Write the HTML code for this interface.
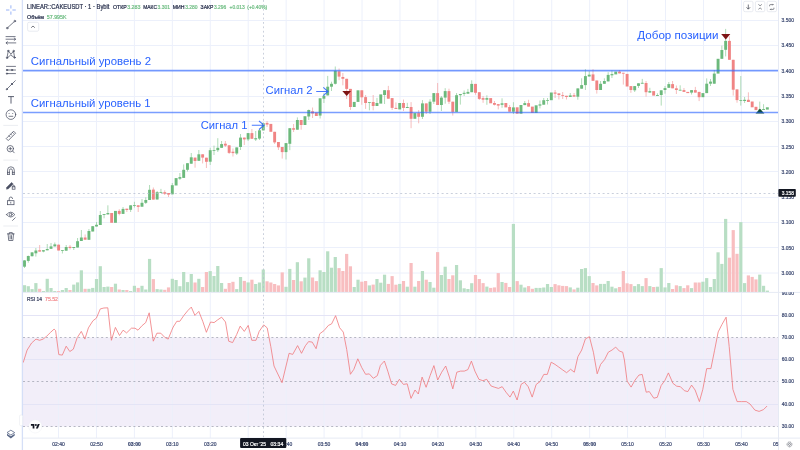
<!DOCTYPE html>
<html><head><meta charset="utf-8"><title>CAKEUSDT chart</title>
<style>html,body{margin:0;padding:0;background:#fff;width:800px;height:450px;overflow:hidden}svg{display:block}</style>
</head><body>
<svg width="800" height="450" viewBox="0 0 800 450" font-family="'Liberation Sans', 'DejaVu Sans', sans-serif">
<defs><clipPath id="mainclip"><rect x="23" y="0" width="755" height="292"/></clipPath><clipPath id="rsiclip"><rect x="23" y="293" width="755" height="145"/></clipPath><clipPath id="rsiax"><rect x="779" y="292.3" width="21" height="145"/></clipPath><clipPath id="timeclip"><rect x="23" y="438" width="755.5" height="12"/></clipPath></defs>
<rect width="800" height="450" fill="#fff"/>
<rect x="23" y="337.5" width="755" height="89" fill="#f2eef9"/>
<line x1="58.50" y1="0" x2="58.50" y2="438" stroke="#ecf0fb" stroke-width="1"/>
<line x1="96.44" y1="0" x2="96.44" y2="438" stroke="#ecf0fb" stroke-width="1"/>
<line x1="134.38" y1="0" x2="134.38" y2="438" stroke="#ecf0fb" stroke-width="1"/>
<line x1="172.32" y1="0" x2="172.32" y2="438" stroke="#ecf0fb" stroke-width="1"/>
<line x1="210.26" y1="0" x2="210.26" y2="438" stroke="#ecf0fb" stroke-width="1"/>
<line x1="248.20" y1="0" x2="248.20" y2="438" stroke="#ecf0fb" stroke-width="1"/>
<line x1="286.14" y1="0" x2="286.14" y2="438" stroke="#ecf0fb" stroke-width="1"/>
<line x1="324.08" y1="0" x2="324.08" y2="438" stroke="#ecf0fb" stroke-width="1"/>
<line x1="362.02" y1="0" x2="362.02" y2="438" stroke="#ecf0fb" stroke-width="1"/>
<line x1="399.96" y1="0" x2="399.96" y2="438" stroke="#ecf0fb" stroke-width="1"/>
<line x1="437.90" y1="0" x2="437.90" y2="438" stroke="#ecf0fb" stroke-width="1"/>
<line x1="475.84" y1="0" x2="475.84" y2="438" stroke="#ecf0fb" stroke-width="1"/>
<line x1="513.78" y1="0" x2="513.78" y2="438" stroke="#ecf0fb" stroke-width="1"/>
<line x1="551.72" y1="0" x2="551.72" y2="438" stroke="#ecf0fb" stroke-width="1"/>
<line x1="589.66" y1="0" x2="589.66" y2="438" stroke="#ecf0fb" stroke-width="1"/>
<line x1="627.60" y1="0" x2="627.60" y2="438" stroke="#ecf0fb" stroke-width="1"/>
<line x1="665.54" y1="0" x2="665.54" y2="438" stroke="#ecf0fb" stroke-width="1"/>
<line x1="703.48" y1="0" x2="703.48" y2="438" stroke="#ecf0fb" stroke-width="1"/>
<line x1="741.42" y1="0" x2="741.42" y2="438" stroke="#ecf0fb" stroke-width="1"/>
<line x1="23" y1="20.5" x2="778" y2="20.5" stroke="#ecf0fb" stroke-width="1"/>
<line x1="23" y1="45.5" x2="778" y2="45.5" stroke="#ecf0fb" stroke-width="1"/>
<line x1="23" y1="70.5" x2="778" y2="70.5" stroke="#ecf0fb" stroke-width="1"/>
<line x1="23" y1="96.5" x2="778" y2="96.5" stroke="#ecf0fb" stroke-width="1"/>
<line x1="23" y1="121.5" x2="778" y2="121.5" stroke="#ecf0fb" stroke-width="1"/>
<line x1="23" y1="146.5" x2="778" y2="146.5" stroke="#ecf0fb" stroke-width="1"/>
<line x1="23" y1="171.5" x2="778" y2="171.5" stroke="#ecf0fb" stroke-width="1"/>
<line x1="23" y1="197.5" x2="778" y2="197.5" stroke="#ecf0fb" stroke-width="1"/>
<line x1="23" y1="222.5" x2="778" y2="222.5" stroke="#ecf0fb" stroke-width="1"/>
<line x1="23" y1="247.5" x2="778" y2="247.5" stroke="#ecf0fb" stroke-width="1"/>
<line x1="23" y1="273.0" x2="778" y2="273.0" stroke="#ecf0fb" stroke-width="1"/>
<line x1="23" y1="315.5" x2="778" y2="315.5" stroke="#e4e4f6" stroke-width="1"/>
<line x1="23" y1="359.5" x2="778" y2="359.5" stroke="#e4e4f6" stroke-width="1"/>
<line x1="23" y1="404.5" x2="778" y2="404.5" stroke="#e4e4f6" stroke-width="1"/>
<line x1="23" y1="337.5" x2="778" y2="337.5" stroke="#9a9cab" stroke-width="0.7" stroke-dasharray="2 2.6"/>
<line x1="23" y1="381.5" x2="778" y2="381.5" stroke="#9a9cab" stroke-width="0.7" stroke-dasharray="2 2.6"/>
<line x1="23" y1="426.5" x2="778" y2="426.5" stroke="#9a9cab" stroke-width="0.7" stroke-dasharray="2 2.6"/>
<g clip-path="url(#mainclip)">
<rect x="22.90" y="285.2" width="3.2" height="6.8" fill="#b8dec4"/>
<rect x="26.69" y="286.2" width="3.2" height="5.8" fill="#b8dec4"/>
<rect x="30.48" y="289.1" width="3.2" height="2.9" fill="#b8dec4"/>
<rect x="34.27" y="283.1" width="3.2" height="8.9" fill="#b8dec4"/>
<rect x="38.06" y="288.8" width="3.2" height="3.2" fill="#f8bec0"/>
<rect x="41.85" y="291.0" width="3.2" height="1.0" fill="#b8dec4"/>
<rect x="45.64" y="278.8" width="3.2" height="13.2" fill="#b8dec4"/>
<rect x="49.43" y="288.0" width="3.2" height="4.0" fill="#b8dec4"/>
<rect x="53.22" y="291.0" width="3.2" height="1.0" fill="#b8dec4"/>
<rect x="57.01" y="291.0" width="3.2" height="1.0" fill="#f8bec0"/>
<rect x="60.80" y="290.0" width="3.2" height="2.0" fill="#b8dec4"/>
<rect x="64.59" y="288.0" width="3.2" height="4.0" fill="#b8dec4"/>
<rect x="68.38" y="290.0" width="3.2" height="2.0" fill="#f8bec0"/>
<rect x="72.17" y="284.6" width="3.2" height="7.4" fill="#b8dec4"/>
<rect x="75.96" y="282.4" width="3.2" height="9.6" fill="#b8dec4"/>
<rect x="79.75" y="270.3" width="3.2" height="21.7" fill="#b8dec4"/>
<rect x="83.54" y="288.8" width="3.2" height="3.2" fill="#f8bec0"/>
<rect x="87.33" y="288.8" width="3.2" height="3.2" fill="#b8dec4"/>
<rect x="91.12" y="287.9" width="3.2" height="4.1" fill="#b8dec4"/>
<rect x="94.91" y="279.0" width="3.2" height="13.0" fill="#b8dec4"/>
<rect x="98.70" y="266.2" width="3.2" height="25.8" fill="#b8dec4"/>
<rect x="102.49" y="287.0" width="3.2" height="5.0" fill="#b8dec4"/>
<rect x="106.28" y="286.6" width="3.2" height="5.4" fill="#b8dec4"/>
<rect x="110.07" y="287.0" width="3.2" height="5.0" fill="#f8bec0"/>
<rect x="113.86" y="283.7" width="3.2" height="8.3" fill="#b8dec4"/>
<rect x="117.65" y="289.5" width="3.2" height="2.5" fill="#f8bec0"/>
<rect x="121.44" y="290.0" width="3.2" height="2.0" fill="#b8dec4"/>
<rect x="125.23" y="290.0" width="3.2" height="2.0" fill="#f8bec0"/>
<rect x="129.02" y="291.0" width="3.2" height="1.0" fill="#b8dec4"/>
<rect x="132.81" y="285.8" width="3.2" height="6.2" fill="#b8dec4"/>
<rect x="136.60" y="287.9" width="3.2" height="4.1" fill="#f8bec0"/>
<rect x="140.39" y="285.8" width="3.2" height="6.2" fill="#b8dec4"/>
<rect x="144.18" y="289.5" width="3.2" height="2.5" fill="#b8dec4"/>
<rect x="147.97" y="258.9" width="3.2" height="33.1" fill="#b8dec4"/>
<rect x="151.76" y="279.1" width="3.2" height="12.9" fill="#f8bec0"/>
<rect x="155.55" y="289.1" width="3.2" height="2.9" fill="#b8dec4"/>
<rect x="159.34" y="289.5" width="3.2" height="2.5" fill="#b8dec4"/>
<rect x="163.13" y="289.8" width="3.2" height="2.2" fill="#f8bec0"/>
<rect x="166.92" y="287.4" width="3.2" height="4.6" fill="#f8bec0"/>
<rect x="170.71" y="278.8" width="3.2" height="13.2" fill="#b8dec4"/>
<rect x="174.50" y="280.0" width="3.2" height="12.0" fill="#b8dec4"/>
<rect x="178.29" y="286.2" width="3.2" height="5.8" fill="#b8dec4"/>
<rect x="182.08" y="272.0" width="3.2" height="20.0" fill="#b8dec4"/>
<rect x="185.87" y="282.1" width="3.2" height="9.9" fill="#b8dec4"/>
<rect x="189.66" y="274.0" width="3.2" height="18.0" fill="#b8dec4"/>
<rect x="193.45" y="282.5" width="3.2" height="9.5" fill="#f8bec0"/>
<rect x="197.24" y="278.8" width="3.2" height="13.2" fill="#b8dec4"/>
<rect x="201.03" y="287.0" width="3.2" height="5.0" fill="#f8bec0"/>
<rect x="204.82" y="272.0" width="3.2" height="20.0" fill="#f8bec0"/>
<rect x="208.61" y="271.1" width="3.2" height="20.9" fill="#b8dec4"/>
<rect x="212.40" y="276.0" width="3.2" height="16.0" fill="#b8dec4"/>
<rect x="216.19" y="266.0" width="3.2" height="26.0" fill="#b8dec4"/>
<rect x="219.98" y="283.0" width="3.2" height="9.0" fill="#b8dec4"/>
<rect x="223.77" y="288.8" width="3.2" height="3.2" fill="#f8bec0"/>
<rect x="227.56" y="283.0" width="3.2" height="9.0" fill="#f8bec0"/>
<rect x="231.35" y="281.8" width="3.2" height="10.2" fill="#f8bec0"/>
<rect x="235.14" y="289.1" width="3.2" height="2.9" fill="#b8dec4"/>
<rect x="238.93" y="277.0" width="3.2" height="15.0" fill="#b8dec4"/>
<rect x="242.72" y="280.9" width="3.2" height="11.1" fill="#f8bec0"/>
<rect x="246.51" y="282.4" width="3.2" height="9.6" fill="#b8dec4"/>
<rect x="250.30" y="279.7" width="3.2" height="12.3" fill="#f8bec0"/>
<rect x="254.09" y="284.0" width="3.2" height="8.0" fill="#b8dec4"/>
<rect x="257.88" y="282.5" width="3.2" height="9.5" fill="#b8dec4"/>
<rect x="261.67" y="269.5" width="3.2" height="22.5" fill="#b8dec4"/>
<rect x="265.46" y="281.3" width="3.2" height="10.7" fill="#f8bec0"/>
<rect x="269.25" y="282.5" width="3.2" height="9.5" fill="#f8bec0"/>
<rect x="273.04" y="284.0" width="3.2" height="8.0" fill="#f8bec0"/>
<rect x="276.83" y="285.4" width="3.2" height="6.6" fill="#f8bec0"/>
<rect x="280.62" y="272.4" width="3.2" height="19.6" fill="#f8bec0"/>
<rect x="284.41" y="286.8" width="3.2" height="5.2" fill="#b8dec4"/>
<rect x="288.20" y="268.9" width="3.2" height="23.1" fill="#b8dec4"/>
<rect x="291.99" y="280.0" width="3.2" height="12.0" fill="#f8bec0"/>
<rect x="295.78" y="262.2" width="3.2" height="29.8" fill="#b8dec4"/>
<rect x="299.57" y="281.3" width="3.2" height="10.7" fill="#f8bec0"/>
<rect x="303.36" y="277.6" width="3.2" height="14.4" fill="#b8dec4"/>
<rect x="307.15" y="258.3" width="3.2" height="33.7" fill="#b8dec4"/>
<rect x="310.94" y="277.5" width="3.2" height="14.5" fill="#f8bec0"/>
<rect x="314.73" y="281.1" width="3.2" height="10.9" fill="#f8bec0"/>
<rect x="318.52" y="270.3" width="3.2" height="21.7" fill="#b8dec4"/>
<rect x="322.31" y="272.0" width="3.2" height="20.0" fill="#b8dec4"/>
<rect x="326.10" y="251.3" width="3.2" height="40.7" fill="#b8dec4"/>
<rect x="329.89" y="267.7" width="3.2" height="24.3" fill="#b8dec4"/>
<rect x="333.68" y="257.0" width="3.2" height="35.0" fill="#b8dec4"/>
<rect x="337.47" y="268.1" width="3.2" height="23.9" fill="#f8bec0"/>
<rect x="341.26" y="271.0" width="3.2" height="21.0" fill="#f8bec0"/>
<rect x="345.05" y="253.9" width="3.2" height="38.1" fill="#f8bec0"/>
<rect x="348.84" y="266.3" width="3.2" height="25.7" fill="#f8bec0"/>
<rect x="352.63" y="287.0" width="3.2" height="5.0" fill="#b8dec4"/>
<rect x="356.42" y="279.7" width="3.2" height="12.3" fill="#b8dec4"/>
<rect x="360.21" y="281.7" width="3.2" height="10.3" fill="#f8bec0"/>
<rect x="364.00" y="281.0" width="3.2" height="11.0" fill="#f8bec0"/>
<rect x="367.79" y="285.4" width="3.2" height="6.6" fill="#b8dec4"/>
<rect x="371.58" y="284.6" width="3.2" height="7.4" fill="#f8bec0"/>
<rect x="375.37" y="279.0" width="3.2" height="13.0" fill="#b8dec4"/>
<rect x="379.16" y="282.7" width="3.2" height="9.3" fill="#b8dec4"/>
<rect x="382.95" y="274.7" width="3.2" height="17.3" fill="#b8dec4"/>
<rect x="386.74" y="283.9" width="3.2" height="8.1" fill="#f8bec0"/>
<rect x="390.53" y="276.1" width="3.2" height="15.9" fill="#f8bec0"/>
<rect x="394.32" y="284.7" width="3.2" height="7.3" fill="#f8bec0"/>
<rect x="398.11" y="283.9" width="3.2" height="8.1" fill="#b8dec4"/>
<rect x="401.90" y="281.0" width="3.2" height="11.0" fill="#f8bec0"/>
<rect x="405.69" y="286.7" width="3.2" height="5.3" fill="#b8dec4"/>
<rect x="409.48" y="263.0" width="3.2" height="29.0" fill="#f8bec0"/>
<rect x="413.27" y="286.7" width="3.2" height="5.3" fill="#b8dec4"/>
<rect x="417.06" y="281.0" width="3.2" height="11.0" fill="#f8bec0"/>
<rect x="420.85" y="271.0" width="3.2" height="21.0" fill="#b8dec4"/>
<rect x="424.64" y="279.7" width="3.2" height="12.3" fill="#f8bec0"/>
<rect x="428.43" y="282.0" width="3.2" height="10.0" fill="#b8dec4"/>
<rect x="432.22" y="287.7" width="3.2" height="4.3" fill="#b8dec4"/>
<rect x="436.01" y="252.1" width="3.2" height="39.9" fill="#f8bec0"/>
<rect x="439.80" y="275.0" width="3.2" height="17.0" fill="#b8dec4"/>
<rect x="443.59" y="266.7" width="3.2" height="25.3" fill="#b8dec4"/>
<rect x="447.38" y="279.0" width="3.2" height="13.0" fill="#f8bec0"/>
<rect x="451.17" y="275.3" width="3.2" height="16.7" fill="#f8bec0"/>
<rect x="454.96" y="265.0" width="3.2" height="27.0" fill="#b8dec4"/>
<rect x="458.75" y="280.3" width="3.2" height="11.7" fill="#b8dec4"/>
<rect x="462.54" y="288.3" width="3.2" height="3.7" fill="#b8dec4"/>
<rect x="466.33" y="289.0" width="3.2" height="3.0" fill="#b8dec4"/>
<rect x="470.12" y="283.2" width="3.2" height="8.8" fill="#b8dec4"/>
<rect x="473.91" y="275.0" width="3.2" height="17.0" fill="#f8bec0"/>
<rect x="477.70" y="279.0" width="3.2" height="13.0" fill="#f8bec0"/>
<rect x="481.49" y="283.1" width="3.2" height="8.9" fill="#f8bec0"/>
<rect x="485.28" y="286.6" width="3.2" height="5.4" fill="#b8dec4"/>
<rect x="489.07" y="287.9" width="3.2" height="4.1" fill="#f8bec0"/>
<rect x="492.86" y="287.4" width="3.2" height="4.6" fill="#f8bec0"/>
<rect x="496.65" y="273.1" width="3.2" height="18.9" fill="#f8bec0"/>
<rect x="500.44" y="282.0" width="3.2" height="10.0" fill="#b8dec4"/>
<rect x="504.23" y="282.9" width="3.2" height="9.1" fill="#f8bec0"/>
<rect x="508.02" y="287.0" width="3.2" height="5.0" fill="#f8bec0"/>
<rect x="511.81" y="223.9" width="3.2" height="68.1" fill="#b8dec4"/>
<rect x="515.60" y="281.1" width="3.2" height="10.9" fill="#f8bec0"/>
<rect x="519.39" y="284.7" width="3.2" height="7.3" fill="#b8dec4"/>
<rect x="523.18" y="287.5" width="3.2" height="4.5" fill="#b8dec4"/>
<rect x="526.97" y="286.1" width="3.2" height="5.9" fill="#f8bec0"/>
<rect x="530.76" y="288.8" width="3.2" height="3.2" fill="#f8bec0"/>
<rect x="534.55" y="287.9" width="3.2" height="4.1" fill="#b8dec4"/>
<rect x="538.34" y="287.9" width="3.2" height="4.1" fill="#b8dec4"/>
<rect x="542.13" y="287.5" width="3.2" height="4.5" fill="#b8dec4"/>
<rect x="545.92" y="284.0" width="3.2" height="8.0" fill="#b8dec4"/>
<rect x="549.71" y="287.0" width="3.2" height="5.0" fill="#b8dec4"/>
<rect x="553.50" y="284.1" width="3.2" height="7.9" fill="#f8bec0"/>
<rect x="557.29" y="285.3" width="3.2" height="6.7" fill="#f8bec0"/>
<rect x="561.08" y="285.9" width="3.2" height="6.1" fill="#f8bec0"/>
<rect x="564.87" y="286.1" width="3.2" height="5.9" fill="#f8bec0"/>
<rect x="568.66" y="287.4" width="3.2" height="4.6" fill="#b8dec4"/>
<rect x="572.45" y="289.4" width="3.2" height="2.6" fill="#f8bec0"/>
<rect x="576.24" y="287.7" width="3.2" height="4.3" fill="#b8dec4"/>
<rect x="580.03" y="269.0" width="3.2" height="23.0" fill="#b8dec4"/>
<rect x="583.82" y="268.1" width="3.2" height="23.9" fill="#b8dec4"/>
<rect x="587.61" y="276.1" width="3.2" height="15.9" fill="#b8dec4"/>
<rect x="591.40" y="283.0" width="3.2" height="9.0" fill="#f8bec0"/>
<rect x="595.19" y="285.4" width="3.2" height="6.6" fill="#f8bec0"/>
<rect x="598.98" y="283.9" width="3.2" height="8.1" fill="#b8dec4"/>
<rect x="602.77" y="283.9" width="3.2" height="8.1" fill="#b8dec4"/>
<rect x="606.56" y="281.0" width="3.2" height="11.0" fill="#b8dec4"/>
<rect x="610.35" y="286.7" width="3.2" height="5.3" fill="#b8dec4"/>
<rect x="614.14" y="288.3" width="3.2" height="3.7" fill="#b8dec4"/>
<rect x="617.93" y="287.0" width="3.2" height="5.0" fill="#f8bec0"/>
<rect x="621.72" y="271.0" width="3.2" height="21.0" fill="#f8bec0"/>
<rect x="625.51" y="283.3" width="3.2" height="8.7" fill="#f8bec0"/>
<rect x="629.30" y="284.1" width="3.2" height="7.9" fill="#f8bec0"/>
<rect x="633.09" y="286.1" width="3.2" height="5.9" fill="#b8dec4"/>
<rect x="636.88" y="284.1" width="3.2" height="7.9" fill="#b8dec4"/>
<rect x="640.67" y="286.1" width="3.2" height="5.9" fill="#b8dec4"/>
<rect x="644.46" y="278.1" width="3.2" height="13.9" fill="#f8bec0"/>
<rect x="648.25" y="286.1" width="3.2" height="5.9" fill="#b8dec4"/>
<rect x="652.04" y="287.0" width="3.2" height="5.0" fill="#f8bec0"/>
<rect x="655.83" y="286.7" width="3.2" height="5.3" fill="#b8dec4"/>
<rect x="659.62" y="268.1" width="3.2" height="23.9" fill="#b8dec4"/>
<rect x="663.41" y="287.4" width="3.2" height="4.6" fill="#b8dec4"/>
<rect x="667.20" y="283.0" width="3.2" height="9.0" fill="#b8dec4"/>
<rect x="670.99" y="289.0" width="3.2" height="3.0" fill="#f8bec0"/>
<rect x="674.78" y="285.3" width="3.2" height="6.7" fill="#f8bec0"/>
<rect x="678.57" y="286.1" width="3.2" height="5.9" fill="#b8dec4"/>
<rect x="682.36" y="288.1" width="3.2" height="3.9" fill="#f8bec0"/>
<rect x="686.15" y="285.3" width="3.2" height="6.7" fill="#f8bec0"/>
<rect x="689.94" y="288.1" width="3.2" height="3.9" fill="#b8dec4"/>
<rect x="693.73" y="282.5" width="3.2" height="9.5" fill="#f8bec0"/>
<rect x="697.52" y="282.5" width="3.2" height="9.5" fill="#f8bec0"/>
<rect x="701.31" y="281.7" width="3.2" height="10.3" fill="#b8dec4"/>
<rect x="705.10" y="278.1" width="3.2" height="13.9" fill="#b8dec4"/>
<rect x="708.89" y="287.0" width="3.2" height="5.0" fill="#b8dec4"/>
<rect x="712.68" y="279.0" width="3.2" height="13.0" fill="#b8dec4"/>
<rect x="716.47" y="252.3" width="3.2" height="39.7" fill="#b8dec4"/>
<rect x="720.26" y="263.9" width="3.2" height="28.1" fill="#b8dec4"/>
<rect x="724.05" y="218.9" width="3.2" height="73.1" fill="#b8dec4"/>
<rect x="727.84" y="257.7" width="3.2" height="34.3" fill="#f8bec0"/>
<rect x="731.63" y="230.1" width="3.2" height="61.9" fill="#f8bec0"/>
<rect x="735.42" y="253.8" width="3.2" height="38.2" fill="#f8bec0"/>
<rect x="739.21" y="222.1" width="3.2" height="69.9" fill="#b8dec4"/>
<rect x="743.00" y="283.1" width="3.2" height="8.9" fill="#b8dec4"/>
<rect x="746.79" y="275.4" width="3.2" height="16.6" fill="#f8bec0"/>
<rect x="750.58" y="276.9" width="3.2" height="15.1" fill="#f8bec0"/>
<rect x="754.37" y="279.4" width="3.2" height="12.6" fill="#f8bec0"/>
<rect x="758.16" y="274.6" width="3.2" height="17.4" fill="#b8dec4"/>
<rect x="761.95" y="285.8" width="3.2" height="6.2" fill="#b8dec4"/>
<rect x="765.74" y="290.6" width="3.2" height="1.4" fill="#b8dec4"/>
<line x1="24.50" y1="260.0" x2="24.50" y2="268.0" stroke="#8ccb98" stroke-width="0.7"/>
<rect x="23.05" y="260.4" width="2.9" height="6.3" fill="#6cb97c"/>
<line x1="28.29" y1="255.5" x2="28.29" y2="262.7" stroke="#8ccb98" stroke-width="0.7"/>
<rect x="26.84" y="256.0" width="2.9" height="4.9" fill="#6cb97c"/>
<line x1="32.08" y1="252.0" x2="32.08" y2="256.5" stroke="#8ccb98" stroke-width="0.7"/>
<rect x="30.63" y="252.4" width="2.9" height="3.8" fill="#6cb97c"/>
<line x1="35.87" y1="248.0" x2="35.87" y2="256.6" stroke="#8ccb98" stroke-width="0.7"/>
<rect x="34.42" y="250.5" width="2.9" height="2.8" fill="#6cb97c"/>
<line x1="39.66" y1="245.0" x2="39.66" y2="251.6" stroke="#f4a0a0" stroke-width="0.7"/>
<rect x="38.21" y="250.2" width="2.9" height="1.4" fill="#f08484"/>
<line x1="43.45" y1="250.0" x2="43.45" y2="252.3" stroke="#8ccb98" stroke-width="0.7"/>
<rect x="42.00" y="250.2" width="2.9" height="1.3" fill="#6cb97c"/>
<line x1="47.24" y1="244.0" x2="47.24" y2="250.3" stroke="#8ccb98" stroke-width="0.7"/>
<rect x="45.79" y="249.0" width="2.9" height="1.3" fill="#6cb97c"/>
<line x1="51.03" y1="243.0" x2="51.03" y2="249.0" stroke="#8ccb98" stroke-width="0.7"/>
<rect x="49.58" y="246.4" width="2.9" height="2.4" fill="#6cb97c"/>
<line x1="54.82" y1="242.5" x2="54.82" y2="246.5" stroke="#8ccb98" stroke-width="0.7"/>
<rect x="53.37" y="244.4" width="2.9" height="2.0" fill="#6cb97c"/>
<line x1="58.61" y1="244.5" x2="58.61" y2="250.5" stroke="#f4a0a0" stroke-width="0.7"/>
<rect x="57.16" y="244.7" width="2.9" height="5.8" fill="#f08484"/>
<line x1="62.40" y1="250.0" x2="62.40" y2="253.5" stroke="#8ccb98" stroke-width="0.7"/>
<rect x="60.95" y="250.0" width="2.9" height="0.8" fill="#6cb97c"/>
<line x1="66.19" y1="245.0" x2="66.19" y2="250.7" stroke="#8ccb98" stroke-width="0.7"/>
<rect x="64.74" y="247.0" width="2.9" height="3.7" fill="#6cb97c"/>
<line x1="69.98" y1="245.0" x2="69.98" y2="249.5" stroke="#f4a0a0" stroke-width="0.7"/>
<rect x="68.53" y="246.8" width="2.9" height="1.2" fill="#f08484"/>
<line x1="73.77" y1="247.0" x2="73.77" y2="250.0" stroke="#8ccb98" stroke-width="0.7"/>
<rect x="72.32" y="247.0" width="2.9" height="1.0" fill="#6cb97c"/>
<line x1="77.56" y1="238.0" x2="77.56" y2="247.5" stroke="#8ccb98" stroke-width="0.7"/>
<rect x="76.11" y="241.2" width="2.9" height="6.3" fill="#6cb97c"/>
<line x1="81.35" y1="230.0" x2="81.35" y2="241.0" stroke="#8ccb98" stroke-width="0.7"/>
<rect x="79.90" y="237.5" width="2.9" height="3.5" fill="#6cb97c"/>
<line x1="85.14" y1="234.5" x2="85.14" y2="239.7" stroke="#f4a0a0" stroke-width="0.7"/>
<rect x="83.69" y="237.5" width="2.9" height="2.2" fill="#f08484"/>
<line x1="88.93" y1="229.0" x2="88.93" y2="239.8" stroke="#8ccb98" stroke-width="0.7"/>
<rect x="87.48" y="231.0" width="2.9" height="8.8" fill="#6cb97c"/>
<line x1="92.72" y1="226.0" x2="92.72" y2="231.5" stroke="#8ccb98" stroke-width="0.7"/>
<rect x="91.27" y="226.2" width="2.9" height="5.3" fill="#6cb97c"/>
<line x1="96.51" y1="222.0" x2="96.51" y2="226.5" stroke="#8ccb98" stroke-width="0.7"/>
<rect x="95.06" y="224.8" width="2.9" height="1.7" fill="#6cb97c"/>
<line x1="100.30" y1="211.0" x2="100.30" y2="225.0" stroke="#8ccb98" stroke-width="0.7"/>
<rect x="98.85" y="215.0" width="2.9" height="10.0" fill="#6cb97c"/>
<line x1="104.09" y1="214.0" x2="104.09" y2="218.3" stroke="#8ccb98" stroke-width="0.7"/>
<rect x="102.64" y="214.1" width="2.9" height="0.9" fill="#6cb97c"/>
<line x1="107.88" y1="205.3" x2="107.88" y2="214.4" stroke="#8ccb98" stroke-width="0.7"/>
<rect x="106.43" y="213.0" width="2.9" height="1.4" fill="#6cb97c"/>
<rect x="110.22" y="213.0" width="2.9" height="9.8" fill="#f08484"/>
<rect x="114.01" y="210.9" width="2.9" height="11.9" fill="#6cb97c"/>
<line x1="119.25" y1="209.2" x2="119.25" y2="215.3" stroke="#f4a0a0" stroke-width="0.7"/>
<rect x="117.80" y="210.9" width="2.9" height="3.0" fill="#f08484"/>
<line x1="123.04" y1="207.0" x2="123.04" y2="213.9" stroke="#8ccb98" stroke-width="0.7"/>
<rect x="121.59" y="208.9" width="2.9" height="5.0" fill="#6cb97c"/>
<line x1="126.83" y1="208.7" x2="126.83" y2="212.0" stroke="#f4a0a0" stroke-width="0.7"/>
<rect x="125.38" y="208.7" width="2.9" height="1.3" fill="#f08484"/>
<line x1="130.62" y1="205.3" x2="130.62" y2="212.0" stroke="#8ccb98" stroke-width="0.7"/>
<rect x="129.17" y="205.3" width="2.9" height="4.5" fill="#6cb97c"/>
<line x1="134.41" y1="201.8" x2="134.41" y2="207.5" stroke="#8ccb98" stroke-width="0.7"/>
<rect x="132.96" y="205.0" width="2.9" height="0.8" fill="#6cb97c"/>
<line x1="138.20" y1="205.3" x2="138.20" y2="212.0" stroke="#f4a0a0" stroke-width="0.7"/>
<rect x="136.75" y="205.3" width="2.9" height="1.6" fill="#f08484"/>
<line x1="141.99" y1="199.0" x2="141.99" y2="206.7" stroke="#8ccb98" stroke-width="0.7"/>
<rect x="140.54" y="202.8" width="2.9" height="3.9" fill="#6cb97c"/>
<line x1="145.78" y1="197.3" x2="145.78" y2="204.0" stroke="#8ccb98" stroke-width="0.7"/>
<rect x="144.33" y="200.0" width="2.9" height="2.8" fill="#6cb97c"/>
<line x1="149.57" y1="185.0" x2="149.57" y2="200.0" stroke="#8ccb98" stroke-width="0.7"/>
<rect x="148.12" y="189.8" width="2.9" height="10.2" fill="#6cb97c"/>
<line x1="153.36" y1="187.5" x2="153.36" y2="199.6" stroke="#f4a0a0" stroke-width="0.7"/>
<rect x="151.91" y="189.6" width="2.9" height="10.0" fill="#f08484"/>
<line x1="157.15" y1="191.0" x2="157.15" y2="199.5" stroke="#8ccb98" stroke-width="0.7"/>
<rect x="155.70" y="192.2" width="2.9" height="7.3" fill="#6cb97c"/>
<line x1="160.94" y1="188.9" x2="160.94" y2="193.0" stroke="#8ccb98" stroke-width="0.7"/>
<rect x="159.49" y="192.2" width="2.9" height="0.8" fill="#6cb97c"/>
<line x1="164.73" y1="190.3" x2="164.73" y2="195.0" stroke="#f4a0a0" stroke-width="0.7"/>
<rect x="163.28" y="192.2" width="2.9" height="1.6" fill="#f08484"/>
<line x1="168.52" y1="193.0" x2="168.52" y2="197.0" stroke="#f4a0a0" stroke-width="0.7"/>
<rect x="167.07" y="193.0" width="2.9" height="1.6" fill="#f08484"/>
<line x1="172.31" y1="183.0" x2="172.31" y2="194.3" stroke="#8ccb98" stroke-width="0.7"/>
<rect x="170.86" y="185.2" width="2.9" height="9.1" fill="#6cb97c"/>
<rect x="174.65" y="178.1" width="2.9" height="7.4" fill="#6cb97c"/>
<line x1="179.89" y1="173.0" x2="179.89" y2="180.0" stroke="#8ccb98" stroke-width="0.7"/>
<rect x="178.44" y="177.1" width="2.9" height="1.6" fill="#6cb97c"/>
<line x1="183.68" y1="164.4" x2="183.68" y2="177.9" stroke="#8ccb98" stroke-width="0.7"/>
<rect x="182.23" y="169.8" width="2.9" height="8.1" fill="#6cb97c"/>
<line x1="187.47" y1="163.2" x2="187.47" y2="171.5" stroke="#8ccb98" stroke-width="0.7"/>
<rect x="186.02" y="163.2" width="2.9" height="6.6" fill="#6cb97c"/>
<line x1="191.26" y1="153.0" x2="191.26" y2="163.7" stroke="#8ccb98" stroke-width="0.7"/>
<rect x="189.81" y="157.3" width="2.9" height="6.4" fill="#6cb97c"/>
<line x1="195.05" y1="157.6" x2="195.05" y2="167.7" stroke="#f4a0a0" stroke-width="0.7"/>
<rect x="193.60" y="157.6" width="2.9" height="3.4" fill="#f08484"/>
<line x1="198.84" y1="150.0" x2="198.84" y2="160.8" stroke="#8ccb98" stroke-width="0.7"/>
<rect x="197.39" y="154.3" width="2.9" height="6.5" fill="#6cb97c"/>
<line x1="202.63" y1="154.3" x2="202.63" y2="163.4" stroke="#f4a0a0" stroke-width="0.7"/>
<rect x="201.18" y="154.3" width="2.9" height="3.3" fill="#f08484"/>
<line x1="206.42" y1="157.7" x2="206.42" y2="168.0" stroke="#f4a0a0" stroke-width="0.7"/>
<rect x="204.97" y="157.7" width="2.9" height="4.1" fill="#f08484"/>
<line x1="210.21" y1="147.8" x2="210.21" y2="165.0" stroke="#8ccb98" stroke-width="0.7"/>
<rect x="208.76" y="150.2" width="2.9" height="11.5" fill="#6cb97c"/>
<line x1="214.00" y1="145.6" x2="214.00" y2="155.0" stroke="#8ccb98" stroke-width="0.7"/>
<rect x="212.55" y="150.2" width="2.9" height="0.8" fill="#6cb97c"/>
<line x1="217.79" y1="138.2" x2="217.79" y2="152.0" stroke="#8ccb98" stroke-width="0.7"/>
<rect x="216.34" y="147.8" width="2.9" height="2.4" fill="#6cb97c"/>
<line x1="221.58" y1="141.0" x2="221.58" y2="147.8" stroke="#8ccb98" stroke-width="0.7"/>
<rect x="220.13" y="144.1" width="2.9" height="3.7" fill="#6cb97c"/>
<line x1="225.37" y1="141.0" x2="225.37" y2="147.0" stroke="#f4a0a0" stroke-width="0.7"/>
<rect x="223.92" y="143.7" width="2.9" height="1.9" fill="#f08484"/>
<line x1="229.16" y1="145.3" x2="229.16" y2="154.0" stroke="#f4a0a0" stroke-width="0.7"/>
<rect x="227.71" y="145.3" width="2.9" height="7.6" fill="#f08484"/>
<line x1="232.95" y1="148.5" x2="232.95" y2="156.5" stroke="#f4a0a0" stroke-width="0.7"/>
<rect x="231.50" y="151.7" width="2.9" height="1.4" fill="#f08484"/>
<line x1="236.74" y1="147.4" x2="236.74" y2="155.0" stroke="#8ccb98" stroke-width="0.7"/>
<rect x="235.29" y="147.4" width="2.9" height="6.1" fill="#6cb97c"/>
<line x1="240.53" y1="134.0" x2="240.53" y2="150.0" stroke="#8ccb98" stroke-width="0.7"/>
<rect x="239.08" y="137.6" width="2.9" height="9.4" fill="#6cb97c"/>
<line x1="244.32" y1="137.6" x2="244.32" y2="145.0" stroke="#f4a0a0" stroke-width="0.7"/>
<rect x="242.87" y="137.6" width="2.9" height="1.8" fill="#f08484"/>
<line x1="248.11" y1="133.1" x2="248.11" y2="141.0" stroke="#8ccb98" stroke-width="0.7"/>
<rect x="246.66" y="133.1" width="2.9" height="6.3" fill="#6cb97c"/>
<line x1="251.90" y1="129.0" x2="251.90" y2="138.8" stroke="#f4a0a0" stroke-width="0.7"/>
<rect x="250.45" y="133.1" width="2.9" height="5.7" fill="#f08484"/>
<line x1="255.69" y1="131.0" x2="255.69" y2="141.0" stroke="#8ccb98" stroke-width="0.7"/>
<rect x="254.24" y="138.2" width="2.9" height="1.2" fill="#6cb97c"/>
<line x1="259.48" y1="129.0" x2="259.48" y2="140.0" stroke="#8ccb98" stroke-width="0.7"/>
<rect x="258.03" y="130.3" width="2.9" height="8.3" fill="#6cb97c"/>
<line x1="263.27" y1="122.2" x2="263.27" y2="130.4" stroke="#8ccb98" stroke-width="0.7"/>
<rect x="261.82" y="123.2" width="2.9" height="7.2" fill="#6cb97c"/>
<line x1="267.06" y1="121.0" x2="267.06" y2="127.0" stroke="#f4a0a0" stroke-width="0.7"/>
<rect x="265.61" y="122.9" width="2.9" height="1.7" fill="#f08484"/>
<rect x="269.40" y="123.9" width="2.9" height="7.9" fill="#f08484"/>
<line x1="274.64" y1="131.8" x2="274.64" y2="144.0" stroke="#f4a0a0" stroke-width="0.7"/>
<rect x="273.19" y="131.8" width="2.9" height="10.6" fill="#f08484"/>
<line x1="278.43" y1="142.0" x2="278.43" y2="150.0" stroke="#f4a0a0" stroke-width="0.7"/>
<rect x="276.98" y="142.0" width="2.9" height="5.3" fill="#f08484"/>
<line x1="282.22" y1="147.0" x2="282.22" y2="158.6" stroke="#f4a0a0" stroke-width="0.7"/>
<rect x="280.77" y="147.0" width="2.9" height="5.1" fill="#f08484"/>
<line x1="286.01" y1="143.1" x2="286.01" y2="159.5" stroke="#8ccb98" stroke-width="0.7"/>
<rect x="284.56" y="143.1" width="2.9" height="9.0" fill="#6cb97c"/>
<line x1="289.80" y1="128.2" x2="289.80" y2="150.2" stroke="#8ccb98" stroke-width="0.7"/>
<rect x="288.35" y="128.2" width="2.9" height="15.6" fill="#6cb97c"/>
<line x1="293.59" y1="124.0" x2="293.59" y2="132.0" stroke="#f4a0a0" stroke-width="0.7"/>
<rect x="292.14" y="128.2" width="2.9" height="1.5" fill="#f08484"/>
<line x1="297.38" y1="117.4" x2="297.38" y2="129.7" stroke="#8ccb98" stroke-width="0.7"/>
<rect x="295.93" y="120.0" width="2.9" height="9.7" fill="#6cb97c"/>
<line x1="301.17" y1="120.0" x2="301.17" y2="129.7" stroke="#f4a0a0" stroke-width="0.7"/>
<rect x="299.72" y="120.0" width="2.9" height="5.0" fill="#f08484"/>
<rect x="303.51" y="116.2" width="2.9" height="8.8" fill="#6cb97c"/>
<line x1="308.75" y1="109.5" x2="308.75" y2="120.0" stroke="#8ccb98" stroke-width="0.7"/>
<rect x="307.30" y="110.0" width="2.9" height="6.5" fill="#6cb97c"/>
<line x1="312.54" y1="107.5" x2="312.54" y2="118.0" stroke="#f4a0a0" stroke-width="0.7"/>
<rect x="311.09" y="111.3" width="2.9" height="2.2" fill="#f08484"/>
<rect x="314.88" y="112.5" width="2.9" height="3.5" fill="#f08484"/>
<line x1="320.12" y1="98.3" x2="320.12" y2="118.5" stroke="#8ccb98" stroke-width="0.7"/>
<rect x="318.67" y="98.3" width="2.9" height="17.3" fill="#6cb97c"/>
<line x1="323.91" y1="93.2" x2="323.91" y2="103.0" stroke="#8ccb98" stroke-width="0.7"/>
<rect x="322.46" y="95.8" width="2.9" height="2.9" fill="#6cb97c"/>
<line x1="327.70" y1="75.9" x2="327.70" y2="95.4" stroke="#8ccb98" stroke-width="0.7"/>
<rect x="326.25" y="86.7" width="2.9" height="8.7" fill="#6cb97c"/>
<line x1="331.49" y1="81.7" x2="331.49" y2="91.0" stroke="#8ccb98" stroke-width="0.7"/>
<rect x="330.04" y="83.8" width="2.9" height="2.9" fill="#6cb97c"/>
<line x1="335.28" y1="66.5" x2="335.28" y2="84.5" stroke="#8ccb98" stroke-width="0.7"/>
<rect x="333.83" y="70.8" width="2.9" height="13.0" fill="#6cb97c"/>
<line x1="339.07" y1="68.5" x2="339.07" y2="80.2" stroke="#f4a0a0" stroke-width="0.7"/>
<rect x="337.62" y="71.3" width="2.9" height="5.3" fill="#f08484"/>
<line x1="342.86" y1="73.0" x2="342.86" y2="85.3" stroke="#f4a0a0" stroke-width="0.7"/>
<rect x="341.41" y="77.0" width="2.9" height="1.8" fill="#f08484"/>
<line x1="346.65" y1="78.8" x2="346.65" y2="99.0" stroke="#f4a0a0" stroke-width="0.7"/>
<rect x="345.20" y="78.8" width="2.9" height="10.1" fill="#f08484"/>
<line x1="350.44" y1="88.9" x2="350.44" y2="109.9" stroke="#f4a0a0" stroke-width="0.7"/>
<rect x="348.99" y="88.9" width="2.9" height="18.1" fill="#f08484"/>
<rect x="352.78" y="101.9" width="2.9" height="5.1" fill="#6cb97c"/>
<rect x="356.57" y="90.3" width="2.9" height="11.6" fill="#6cb97c"/>
<line x1="361.81" y1="90.3" x2="361.81" y2="104.8" stroke="#f4a0a0" stroke-width="0.7"/>
<rect x="360.36" y="90.3" width="2.9" height="7.0" fill="#f08484"/>
<line x1="365.60" y1="95.0" x2="365.60" y2="108.9" stroke="#f4a0a0" stroke-width="0.7"/>
<rect x="364.15" y="97.1" width="2.9" height="5.9" fill="#f08484"/>
<line x1="369.39" y1="102.0" x2="369.39" y2="110.3" stroke="#8ccb98" stroke-width="0.7"/>
<rect x="367.94" y="102.0" width="2.9" height="0.8" fill="#6cb97c"/>
<line x1="373.18" y1="95.0" x2="373.18" y2="110.3" stroke="#f4a0a0" stroke-width="0.7"/>
<rect x="371.73" y="102.0" width="2.9" height="4.0" fill="#f08484"/>
<line x1="376.97" y1="97.9" x2="376.97" y2="106.0" stroke="#8ccb98" stroke-width="0.7"/>
<rect x="375.52" y="103.0" width="2.9" height="3.0" fill="#6cb97c"/>
<rect x="379.31" y="94.4" width="2.9" height="9.2" fill="#6cb97c"/>
<line x1="384.55" y1="90.2" x2="384.55" y2="104.0" stroke="#8ccb98" stroke-width="0.7"/>
<rect x="383.10" y="90.2" width="2.9" height="4.8" fill="#6cb97c"/>
<line x1="388.34" y1="85.9" x2="388.34" y2="98.7" stroke="#f4a0a0" stroke-width="0.7"/>
<rect x="386.89" y="90.2" width="2.9" height="8.5" fill="#f08484"/>
<line x1="392.13" y1="98.1" x2="392.13" y2="110.0" stroke="#f4a0a0" stroke-width="0.7"/>
<rect x="390.68" y="98.1" width="2.9" height="9.8" fill="#f08484"/>
<line x1="395.92" y1="102.4" x2="395.92" y2="108.9" stroke="#f4a0a0" stroke-width="0.7"/>
<rect x="394.47" y="107.9" width="2.9" height="1.0" fill="#f08484"/>
<rect x="398.26" y="103.0" width="2.9" height="6.4" fill="#6cb97c"/>
<line x1="403.50" y1="99.5" x2="403.50" y2="111.0" stroke="#f4a0a0" stroke-width="0.7"/>
<rect x="402.05" y="103.0" width="2.9" height="4.9" fill="#f08484"/>
<line x1="407.29" y1="102.8" x2="407.29" y2="108.0" stroke="#8ccb98" stroke-width="0.7"/>
<rect x="405.84" y="107.0" width="2.9" height="1.0" fill="#6cb97c"/>
<line x1="411.08" y1="102.1" x2="411.08" y2="128.2" stroke="#f4a0a0" stroke-width="0.7"/>
<rect x="409.63" y="107.0" width="2.9" height="11.8" fill="#f08484"/>
<rect x="413.42" y="113.1" width="2.9" height="5.7" fill="#6cb97c"/>
<line x1="418.66" y1="110.0" x2="418.66" y2="123.3" stroke="#f4a0a0" stroke-width="0.7"/>
<rect x="417.21" y="113.1" width="2.9" height="3.7" fill="#f08484"/>
<line x1="422.45" y1="100.1" x2="422.45" y2="119.0" stroke="#8ccb98" stroke-width="0.7"/>
<rect x="421.00" y="103.4" width="2.9" height="13.4" fill="#6cb97c"/>
<line x1="426.24" y1="103.4" x2="426.24" y2="114.0" stroke="#f4a0a0" stroke-width="0.7"/>
<rect x="424.79" y="103.4" width="2.9" height="8.3" fill="#f08484"/>
<line x1="430.03" y1="99.2" x2="430.03" y2="114.0" stroke="#8ccb98" stroke-width="0.7"/>
<rect x="428.58" y="101.7" width="2.9" height="10.0" fill="#6cb97c"/>
<line x1="433.82" y1="93.1" x2="433.82" y2="104.0" stroke="#8ccb98" stroke-width="0.7"/>
<rect x="432.37" y="93.1" width="2.9" height="8.6" fill="#6cb97c"/>
<line x1="437.61" y1="83.0" x2="437.61" y2="105.0" stroke="#f4a0a0" stroke-width="0.7"/>
<rect x="436.16" y="93.1" width="2.9" height="11.9" fill="#f08484"/>
<line x1="441.40" y1="96.0" x2="441.40" y2="111.0" stroke="#8ccb98" stroke-width="0.7"/>
<rect x="439.95" y="97.6" width="2.9" height="7.4" fill="#6cb97c"/>
<line x1="445.19" y1="88.2" x2="445.19" y2="103.7" stroke="#8ccb98" stroke-width="0.7"/>
<rect x="443.74" y="91.1" width="2.9" height="6.5" fill="#6cb97c"/>
<line x1="448.98" y1="88.7" x2="448.98" y2="104.0" stroke="#f4a0a0" stroke-width="0.7"/>
<rect x="447.53" y="91.1" width="2.9" height="10.6" fill="#f08484"/>
<line x1="452.77" y1="101.7" x2="452.77" y2="115.6" stroke="#f4a0a0" stroke-width="0.7"/>
<rect x="451.32" y="101.7" width="2.9" height="10.2" fill="#f08484"/>
<line x1="456.56" y1="93.0" x2="456.56" y2="111.9" stroke="#8ccb98" stroke-width="0.7"/>
<rect x="455.11" y="95.2" width="2.9" height="16.7" fill="#6cb97c"/>
<line x1="460.35" y1="94.0" x2="460.35" y2="104.6" stroke="#8ccb98" stroke-width="0.7"/>
<rect x="458.90" y="94.0" width="2.9" height="1.2" fill="#6cb97c"/>
<line x1="464.14" y1="90.5" x2="464.14" y2="96.0" stroke="#8ccb98" stroke-width="0.7"/>
<rect x="462.69" y="92.8" width="2.9" height="1.1" fill="#6cb97c"/>
<line x1="467.93" y1="88.9" x2="467.93" y2="93.7" stroke="#8ccb98" stroke-width="0.7"/>
<rect x="466.48" y="91.9" width="2.9" height="1.8" fill="#6cb97c"/>
<line x1="471.72" y1="80.3" x2="471.72" y2="92.2" stroke="#8ccb98" stroke-width="0.7"/>
<rect x="470.27" y="83.9" width="2.9" height="8.3" fill="#6cb97c"/>
<line x1="475.51" y1="83.9" x2="475.51" y2="94.8" stroke="#f4a0a0" stroke-width="0.7"/>
<rect x="474.06" y="83.9" width="2.9" height="8.9" fill="#f08484"/>
<line x1="479.30" y1="92.2" x2="479.30" y2="100.0" stroke="#f4a0a0" stroke-width="0.7"/>
<rect x="477.85" y="92.2" width="2.9" height="6.7" fill="#f08484"/>
<line x1="483.09" y1="96.0" x2="483.09" y2="102.8" stroke="#f4a0a0" stroke-width="0.7"/>
<rect x="481.64" y="98.1" width="2.9" height="1.6" fill="#f08484"/>
<line x1="486.88" y1="95.3" x2="486.88" y2="104.8" stroke="#8ccb98" stroke-width="0.7"/>
<rect x="485.43" y="98.1" width="2.9" height="1.6" fill="#6cb97c"/>
<rect x="489.22" y="98.1" width="2.9" height="5.2" fill="#f08484"/>
<line x1="494.46" y1="101.0" x2="494.46" y2="105.5" stroke="#f4a0a0" stroke-width="0.7"/>
<rect x="493.01" y="103.0" width="2.9" height="1.8" fill="#f08484"/>
<line x1="498.25" y1="104.1" x2="498.25" y2="109.4" stroke="#f4a0a0" stroke-width="0.7"/>
<rect x="496.80" y="104.1" width="2.9" height="1.5" fill="#f08484"/>
<line x1="502.04" y1="98.3" x2="502.04" y2="107.8" stroke="#8ccb98" stroke-width="0.7"/>
<rect x="500.59" y="103.3" width="2.9" height="1.5" fill="#6cb97c"/>
<rect x="504.38" y="103.0" width="2.9" height="4.4" fill="#f08484"/>
<line x1="509.62" y1="105.0" x2="509.62" y2="111.7" stroke="#f4a0a0" stroke-width="0.7"/>
<rect x="508.17" y="107.0" width="2.9" height="4.7" fill="#f08484"/>
<line x1="513.41" y1="102.2" x2="513.41" y2="114.0" stroke="#8ccb98" stroke-width="0.7"/>
<rect x="511.96" y="107.4" width="2.9" height="4.3" fill="#6cb97c"/>
<rect x="515.75" y="107.3" width="2.9" height="6.4" fill="#f08484"/>
<rect x="519.54" y="105.0" width="2.9" height="8.7" fill="#6cb97c"/>
<line x1="524.78" y1="101.0" x2="524.78" y2="105.1" stroke="#8ccb98" stroke-width="0.7"/>
<rect x="523.33" y="103.1" width="2.9" height="2.0" fill="#6cb97c"/>
<line x1="528.57" y1="99.8" x2="528.57" y2="106.6" stroke="#f4a0a0" stroke-width="0.7"/>
<rect x="527.12" y="103.1" width="2.9" height="3.5" fill="#f08484"/>
<rect x="530.91" y="106.6" width="2.9" height="6.3" fill="#f08484"/>
<rect x="534.70" y="105.3" width="2.9" height="7.6" fill="#6cb97c"/>
<line x1="539.94" y1="100.5" x2="539.94" y2="108.4" stroke="#8ccb98" stroke-width="0.7"/>
<rect x="538.49" y="104.4" width="2.9" height="1.2" fill="#6cb97c"/>
<line x1="543.73" y1="98.0" x2="543.73" y2="104.7" stroke="#8ccb98" stroke-width="0.7"/>
<rect x="542.28" y="100.2" width="2.9" height="4.5" fill="#6cb97c"/>
<line x1="547.52" y1="98.0" x2="547.52" y2="104.5" stroke="#8ccb98" stroke-width="0.7"/>
<rect x="546.07" y="100.2" width="2.9" height="0.8" fill="#6cb97c"/>
<rect x="549.86" y="92.5" width="2.9" height="7.7" fill="#6cb97c"/>
<line x1="555.10" y1="90.0" x2="555.10" y2="98.0" stroke="#f4a0a0" stroke-width="0.7"/>
<rect x="553.65" y="92.5" width="2.9" height="1.2" fill="#f08484"/>
<line x1="558.89" y1="93.4" x2="558.89" y2="99.5" stroke="#f4a0a0" stroke-width="0.7"/>
<rect x="557.44" y="93.4" width="2.9" height="1.6" fill="#f08484"/>
<line x1="562.68" y1="92.0" x2="562.68" y2="99.0" stroke="#f4a0a0" stroke-width="0.7"/>
<rect x="561.23" y="95.0" width="2.9" height="0.8" fill="#f08484"/>
<line x1="566.47" y1="95.8" x2="566.47" y2="99.5" stroke="#f4a0a0" stroke-width="0.7"/>
<rect x="565.02" y="95.8" width="2.9" height="1.2" fill="#f08484"/>
<line x1="570.26" y1="93.0" x2="570.26" y2="97.0" stroke="#8ccb98" stroke-width="0.7"/>
<rect x="568.81" y="95.4" width="2.9" height="1.6" fill="#6cb97c"/>
<line x1="574.05" y1="93.0" x2="574.05" y2="96.6" stroke="#f4a0a0" stroke-width="0.7"/>
<rect x="572.60" y="95.2" width="2.9" height="1.4" fill="#f08484"/>
<line x1="577.84" y1="88.4" x2="577.84" y2="99.7" stroke="#8ccb98" stroke-width="0.7"/>
<rect x="576.39" y="88.4" width="2.9" height="8.3" fill="#6cb97c"/>
<line x1="581.63" y1="78.3" x2="581.63" y2="88.7" stroke="#8ccb98" stroke-width="0.7"/>
<rect x="580.18" y="85.1" width="2.9" height="3.6" fill="#6cb97c"/>
<line x1="585.42" y1="69.2" x2="585.42" y2="90.0" stroke="#8ccb98" stroke-width="0.7"/>
<rect x="583.97" y="76.1" width="2.9" height="9.0" fill="#6cb97c"/>
<line x1="589.21" y1="71.2" x2="589.21" y2="76.5" stroke="#8ccb98" stroke-width="0.7"/>
<rect x="587.76" y="74.7" width="2.9" height="1.8" fill="#6cb97c"/>
<line x1="593.00" y1="69.2" x2="593.00" y2="80.8" stroke="#f4a0a0" stroke-width="0.7"/>
<rect x="591.55" y="74.4" width="2.9" height="6.4" fill="#f08484"/>
<line x1="596.79" y1="80.5" x2="596.79" y2="93.6" stroke="#f4a0a0" stroke-width="0.7"/>
<rect x="595.34" y="80.5" width="2.9" height="9.5" fill="#f08484"/>
<line x1="600.58" y1="81.0" x2="600.58" y2="90.0" stroke="#8ccb98" stroke-width="0.7"/>
<rect x="599.13" y="83.8" width="2.9" height="6.2" fill="#6cb97c"/>
<line x1="604.37" y1="78.3" x2="604.37" y2="83.8" stroke="#8ccb98" stroke-width="0.7"/>
<rect x="602.92" y="81.0" width="2.9" height="2.8" fill="#6cb97c"/>
<line x1="608.16" y1="72.2" x2="608.16" y2="81.4" stroke="#8ccb98" stroke-width="0.7"/>
<rect x="606.71" y="74.9" width="2.9" height="6.5" fill="#6cb97c"/>
<line x1="611.95" y1="70.4" x2="611.95" y2="78.0" stroke="#8ccb98" stroke-width="0.7"/>
<rect x="610.50" y="74.1" width="2.9" height="1.2" fill="#6cb97c"/>
<rect x="614.29" y="71.6" width="2.9" height="2.8" fill="#6cb97c"/>
<line x1="619.53" y1="70.0" x2="619.53" y2="73.4" stroke="#f4a0a0" stroke-width="0.7"/>
<rect x="618.08" y="71.6" width="2.9" height="1.8" fill="#f08484"/>
<line x1="623.32" y1="72.8" x2="623.32" y2="84.6" stroke="#f4a0a0" stroke-width="0.7"/>
<rect x="621.87" y="72.8" width="2.9" height="0.8" fill="#f08484"/>
<rect x="625.66" y="73.9" width="2.9" height="12.6" fill="#f08484"/>
<line x1="630.90" y1="86.1" x2="630.90" y2="92.8" stroke="#f4a0a0" stroke-width="0.7"/>
<rect x="629.45" y="86.1" width="2.9" height="3.9" fill="#f08484"/>
<line x1="634.69" y1="86.1" x2="634.69" y2="92.0" stroke="#8ccb98" stroke-width="0.7"/>
<rect x="633.24" y="86.1" width="2.9" height="4.2" fill="#6cb97c"/>
<line x1="638.48" y1="83.3" x2="638.48" y2="88.0" stroke="#8ccb98" stroke-width="0.7"/>
<rect x="637.03" y="83.3" width="2.9" height="2.6" fill="#6cb97c"/>
<line x1="642.27" y1="78.9" x2="642.27" y2="83.7" stroke="#8ccb98" stroke-width="0.7"/>
<rect x="640.82" y="82.8" width="2.9" height="0.9" fill="#6cb97c"/>
<line x1="646.06" y1="81.0" x2="646.06" y2="96.7" stroke="#f4a0a0" stroke-width="0.7"/>
<rect x="644.61" y="83.0" width="2.9" height="9.2" fill="#f08484"/>
<line x1="649.85" y1="87.8" x2="649.85" y2="92.6" stroke="#8ccb98" stroke-width="0.7"/>
<rect x="648.40" y="91.1" width="2.9" height="1.5" fill="#6cb97c"/>
<rect x="652.19" y="91.1" width="2.9" height="4.5" fill="#f08484"/>
<line x1="657.43" y1="93.3" x2="657.43" y2="95.9" stroke="#8ccb98" stroke-width="0.7"/>
<rect x="655.98" y="95.0" width="2.9" height="0.9" fill="#6cb97c"/>
<line x1="661.22" y1="90.3" x2="661.22" y2="105.6" stroke="#8ccb98" stroke-width="0.7"/>
<rect x="659.77" y="90.3" width="2.9" height="4.7" fill="#6cb97c"/>
<line x1="665.01" y1="86.0" x2="665.01" y2="93.7" stroke="#8ccb98" stroke-width="0.7"/>
<rect x="663.56" y="88.1" width="2.9" height="1.9" fill="#6cb97c"/>
<line x1="668.80" y1="82.0" x2="668.80" y2="87.8" stroke="#8ccb98" stroke-width="0.7"/>
<rect x="667.35" y="84.1" width="2.9" height="3.7" fill="#6cb97c"/>
<line x1="672.59" y1="81.0" x2="672.59" y2="88.3" stroke="#f4a0a0" stroke-width="0.7"/>
<rect x="671.14" y="84.1" width="2.9" height="4.2" fill="#f08484"/>
<line x1="676.38" y1="85.5" x2="676.38" y2="94.0" stroke="#f4a0a0" stroke-width="0.7"/>
<rect x="674.93" y="88.3" width="2.9" height="1.7" fill="#f08484"/>
<line x1="680.17" y1="85.3" x2="680.17" y2="90.6" stroke="#8ccb98" stroke-width="0.7"/>
<rect x="678.72" y="89.8" width="2.9" height="0.8" fill="#6cb97c"/>
<line x1="683.96" y1="88.0" x2="683.96" y2="91.9" stroke="#f4a0a0" stroke-width="0.7"/>
<rect x="682.51" y="90.1" width="2.9" height="1.8" fill="#f08484"/>
<rect x="686.30" y="91.9" width="2.9" height="1.2" fill="#f08484"/>
<line x1="691.54" y1="90.1" x2="691.54" y2="94.5" stroke="#8ccb98" stroke-width="0.7"/>
<rect x="690.09" y="90.1" width="2.9" height="2.5" fill="#6cb97c"/>
<line x1="695.33" y1="86.9" x2="695.33" y2="92.6" stroke="#f4a0a0" stroke-width="0.7"/>
<rect x="693.88" y="90.1" width="2.9" height="2.5" fill="#f08484"/>
<line x1="699.12" y1="91.9" x2="699.12" y2="101.1" stroke="#f4a0a0" stroke-width="0.7"/>
<rect x="697.67" y="91.9" width="2.9" height="5.3" fill="#f08484"/>
<rect x="701.46" y="93.1" width="2.9" height="4.1" fill="#6cb97c"/>
<line x1="706.70" y1="78.4" x2="706.70" y2="93.1" stroke="#8ccb98" stroke-width="0.7"/>
<rect x="705.25" y="83.7" width="2.9" height="9.4" fill="#6cb97c"/>
<line x1="710.49" y1="79.0" x2="710.49" y2="86.0" stroke="#8ccb98" stroke-width="0.7"/>
<rect x="709.04" y="81.6" width="2.9" height="2.1" fill="#6cb97c"/>
<line x1="714.28" y1="70.0" x2="714.28" y2="83.7" stroke="#8ccb98" stroke-width="0.7"/>
<rect x="712.83" y="73.6" width="2.9" height="10.1" fill="#6cb97c"/>
<rect x="716.62" y="58.8" width="2.9" height="14.8" fill="#6cb97c"/>
<line x1="721.86" y1="45.6" x2="721.86" y2="58.8" stroke="#8ccb98" stroke-width="0.7"/>
<rect x="720.41" y="50.0" width="2.9" height="8.8" fill="#6cb97c"/>
<line x1="725.65" y1="28.9" x2="725.65" y2="56.4" stroke="#8ccb98" stroke-width="0.7"/>
<rect x="724.20" y="40.9" width="2.9" height="8.9" fill="#6cb97c"/>
<line x1="729.44" y1="36.3" x2="729.44" y2="59.8" stroke="#f4a0a0" stroke-width="0.7"/>
<rect x="727.99" y="40.9" width="2.9" height="18.9" fill="#f08484"/>
<line x1="733.23" y1="59.8" x2="733.23" y2="95.6" stroke="#f4a0a0" stroke-width="0.7"/>
<rect x="731.78" y="59.8" width="2.9" height="29.9" fill="#f08484"/>
<line x1="737.02" y1="89.4" x2="737.02" y2="102.7" stroke="#f4a0a0" stroke-width="0.7"/>
<rect x="735.57" y="89.4" width="2.9" height="10.7" fill="#f08484"/>
<line x1="740.81" y1="76.0" x2="740.81" y2="105.6" stroke="#8ccb98" stroke-width="0.7"/>
<rect x="739.36" y="100.0" width="2.9" height="0.8" fill="#6cb97c"/>
<line x1="744.60" y1="97.0" x2="744.60" y2="103.0" stroke="#8ccb98" stroke-width="0.7"/>
<rect x="743.15" y="99.8" width="2.9" height="1.2" fill="#6cb97c"/>
<line x1="748.39" y1="92.3" x2="748.39" y2="102.0" stroke="#f4a0a0" stroke-width="0.7"/>
<rect x="746.94" y="99.8" width="2.9" height="2.2" fill="#f08484"/>
<rect x="750.73" y="101.5" width="2.9" height="5.8" fill="#f08484"/>
<rect x="754.52" y="106.8" width="2.9" height="3.3" fill="#f08484"/>
<line x1="759.76" y1="101.6" x2="759.76" y2="110.5" stroke="#8ccb98" stroke-width="0.7"/>
<rect x="758.31" y="109.5" width="2.9" height="1.0" fill="#6cb97c"/>
<line x1="763.55" y1="104.2" x2="763.55" y2="110.0" stroke="#8ccb98" stroke-width="0.7"/>
<rect x="762.10" y="109.1" width="2.9" height="0.9" fill="#6cb97c"/>
<rect x="765.89" y="107.3" width="2.9" height="2.3" fill="#6cb97c"/>
</g>
<text x="30.8" y="65.4" font-size="11.8" fill="#2962ff" font-weight="400" textLength="120.2" lengthAdjust="spacingAndGlyphs">Сигнальный уровень 2</text>
<text x="30.8" y="106.6" font-size="11.8" fill="#2962ff" font-weight="400" textLength="119.9" lengthAdjust="spacingAndGlyphs">Сигнальный уровень 1</text>
<text x="200.7" y="128.8" font-size="11.8" fill="#2962ff" font-weight="400" textLength="46.8" lengthAdjust="spacingAndGlyphs">Сигнал 1</text>
<text x="265.5" y="94.2" font-size="11.8" fill="#2962ff" font-weight="400" textLength="47" lengthAdjust="spacingAndGlyphs">Сигнал 2</text>
<text x="637.3" y="38.7" font-size="11.8" fill="#2962ff" font-weight="400" textLength="81.3" lengthAdjust="spacingAndGlyphs">Добор позиции</text>
<path d="M251.8 125.2H264M259 121L264 125.2L259 129.5" fill="none" stroke="#2962ff" stroke-width="1.1" stroke-opacity="0.85"/>
<path d="M316.2 91.5H328M323.3 87.4L328 91.5L323.3 95.6" fill="none" stroke="#2962ff" stroke-width="1.1" stroke-opacity="0.85"/>
<path d="M342.3 91.1H351.1L346.7 96.1Z" fill="#7d1414"/>
<path d="M721.2 34.1H730.3L725.75 39.4Z" fill="#7d1414"/>
<path d="M755.6 113.4H764.4L759.9 108.8Z" fill="#0f4a2e"/>
<line x1="23" y1="70.65" x2="778" y2="70.65" stroke="#2962ff" stroke-opacity="0.62" stroke-width="1.6"/>
<line x1="23" y1="112.5" x2="778" y2="112.5" stroke="#2962ff" stroke-opacity="0.62" stroke-width="1.6"/>
<g clip-path="url(#rsiclip)"><polyline points="23.2,362.6 27.1,350.1 31.6,343.0 36.0,339.1 39.6,340.3 43.1,339.1 46.7,336.2 50.6,332.3 54.1,329.1 55.6,330.6 58.8,354.6 62.3,355.1 66.2,346.2 69.8,351.5 73.3,349.2 77.2,337.7 81.3,331.4 84.9,339.1 88.4,327.9 92.9,320.8 96.4,318.1 100.3,308.9 103.9,308.0 107.8,307.8 111.4,340.3 115.4,327.4 119.5,335.5 123.1,330.2 126.6,332.9 131.4,328.2 135.0,328.2 138.0,330.2 142.1,325.6 145.7,322.6 149.2,312.8 153.3,341.2 156.9,333.2 160.8,333.2 164.7,337.3 168.2,339.1 171.8,330.2 173.2,327.0 176.8,321.3 179.8,321.3 183.9,315.4 187.8,310.6 191.3,307.1 194.9,315.4 198.8,311.4 202.9,321.7 206.4,332.3 210.5,322.0 214.1,322.6 217.6,319.9 221.6,317.2 225.5,322.0 228.7,341.2 232.6,342.6 236.7,334.5 240.2,326.1 244.3,331.4 248.2,325.4 251.8,340.3 256.0,340.3 259.2,331.4 263.7,324.9 267.2,327.9 270.8,346.6 274.0,366.0 282.0,382.7 289.1,353.3 292.7,354.4 297.6,345.6 301.5,353.3 305.4,345.7 308.6,341.6 312.2,342.1 316.1,348.7 319.7,333.8 324.0,330.6 328.4,325.4 331.6,323.9 335.6,315.7 339.6,327.7 343.3,332.1 346.7,349.4 350.4,374.3 353.8,369.4 357.8,358.8 361.8,367.7 365.6,374.3 369.3,373.9 373.3,378.3 377.3,375.7 380.4,365.4 384.4,361.0 387.8,371.2 391.6,383.9 395.6,385.4 399.4,379.3 403.4,384.4 407.2,383.8 411.0,398.4 415.0,390.0 418.3,394.0 422.1,377.1 426.1,387.3 430.1,375.6 433.9,365.6 437.7,380.0 441.7,372.2 445.7,366.0 449.4,377.1 452.8,388.9 456.8,372.2 460.6,371.1 464.3,371.1 467.9,369.6 471.4,361.1 474.9,371.1 478.9,379.3 482.9,380.7 486.7,379.3 491.1,386.0 494.9,387.3 498.4,388.4 502.2,386.7 506.0,392.2 510.0,397.1 513.3,391.1 517.1,400.0 521.1,384.4 524.4,382.2 528.2,386.7 532.2,397.1 536.2,384.4 540.0,381.6 543.8,374.4 547.3,374.4 551.2,362.2 555.0,364.4 558.8,367.1 562.8,370.0 566.6,372.7 570.6,369.3 574.3,372.2 577.9,356.7 581.7,350.0 585.4,338.9 589.4,336.7 593.4,352.2 597.2,373.8 600.6,364.4 604.6,359.6 608.3,352.2 612.1,350.0 615.7,347.1 619.4,351.1 622.7,352.2 624.4,360.0 627.1,381.1 631.1,387.1 635.1,380.0 638.9,375.1 642.2,374.4 646.2,392.2 649.3,391.6 653.8,398.2 657.3,397.3 661.1,385.6 664.9,380.4 668.4,372.9 672.9,383.3 676.7,386.2 680.4,386.7 684.4,390.7 687.8,391.6 691.6,385.1 695.1,390.0 699.4,401.6 702.8,389.4 706.7,368.6 710.9,368.6 714.6,350.2 718.2,331.9 721.9,324.6 726.1,317.2 729.2,346.6 732.9,389.4 737.1,401.6 741.5,401.6 746.3,401.6 750.0,404.0 754.9,410.1 759.1,411.4 763.5,409.6 767.1,406.0" fill="none" stroke="#f0787c" stroke-width="0.8" stroke-linejoin="round"/></g>
<line x1="263.5" y1="0" x2="263.5" y2="438" stroke="#b3bbcd" stroke-width="0.7" stroke-dasharray="1.8 2.6"/>
<line x1="23" y1="193.5" x2="778" y2="193.5" stroke="#b3bbcd" stroke-width="0.7" stroke-dasharray="2 2.6"/>
<line x1="23" y1="292.4" x2="800" y2="292.4" stroke="#e6eaf4" stroke-width="1"/>
<line x1="23" y1="438.1" x2="800" y2="438.1" stroke="#e6eaf4" stroke-width="1"/>
<line x1="778.5" y1="0" x2="778.5" y2="450" stroke="#e6eaf4" stroke-width="1"/>
<line x1="22.4" y1="0" x2="22.4" y2="450" stroke="#d5dff7" stroke-width="1.3"/>
<text x="27" y="9.2" font-size="6.4" fill="#252d4a" font-weight="400" textLength="82.5" lengthAdjust="spacingAndGlyphs" stroke="#252d4a" stroke-width="0.2">LINEAR::CAKEUSDT · 1 · Bybit</text>
<text x="113" y="8.9" font-size="5" fill="#252d4a" font-weight="400" textLength="13.8" lengthAdjust="spacingAndGlyphs" stroke="#252d4a" stroke-width="0.2">ОТКР</text>
<text x="127.2" y="8.9" font-size="5" fill="#6fbd83" font-weight="400" textLength="13.3" lengthAdjust="spacingAndGlyphs" stroke="#6fbd83" stroke-width="0.2">3.283</text>
<text x="143.2" y="8.9" font-size="5" fill="#252d4a" font-weight="400" textLength="13.8" lengthAdjust="spacingAndGlyphs" stroke="#252d4a" stroke-width="0.2">МАКС</text>
<text x="157.5" y="8.9" font-size="5" fill="#6fbd83" font-weight="400" textLength="12.5" lengthAdjust="spacingAndGlyphs" stroke="#6fbd83" stroke-width="0.2">3.301</text>
<text x="172.8" y="8.9" font-size="5" fill="#252d4a" font-weight="400" textLength="11.8" lengthAdjust="spacingAndGlyphs" stroke="#252d4a" stroke-width="0.2">МИН</text>
<text x="185.2" y="8.9" font-size="5" fill="#6fbd83" font-weight="400" textLength="12.4" lengthAdjust="spacingAndGlyphs" stroke="#6fbd83" stroke-width="0.2">3.280</text>
<text x="200.6" y="8.9" font-size="5" fill="#252d4a" font-weight="400" textLength="12.7" lengthAdjust="spacingAndGlyphs" stroke="#252d4a" stroke-width="0.2">ЗАКР</text>
<text x="213.9" y="8.9" font-size="5" fill="#6fbd83" font-weight="400" textLength="12.3" lengthAdjust="spacingAndGlyphs" stroke="#6fbd83" stroke-width="0.2">3.296</text>
<text x="229.6" y="8.9" font-size="5" fill="#6fbd83" font-weight="400" textLength="15.2" lengthAdjust="spacingAndGlyphs" stroke="#6fbd83" stroke-width="0.2">+0.013</text>
<text x="247.3" y="8.9" font-size="5" fill="#6fbd83" font-weight="400" textLength="19.9" lengthAdjust="spacingAndGlyphs" stroke="#6fbd83" stroke-width="0.2">(+0.40%)</text>
<text x="27" y="18.6" font-size="5" fill="#252d4a" font-weight="400" textLength="17" lengthAdjust="spacingAndGlyphs" stroke="#252d4a" stroke-width="0.2">Объём</text>
<text x="46.8" y="18.6" font-size="5" fill="#6fbd83" font-weight="400" textLength="19.7" lengthAdjust="spacingAndGlyphs" stroke="#6fbd83" stroke-width="0.2">57.995K</text>
<rect x="27.6" y="22.3" width="11.1" height="8.9" rx="1.5" fill="#fff" stroke="#e0e3eb" stroke-width="0.7"/>
<path d="M31.2 27.7L33 26L34.8 27.7" fill="none" stroke="#3a3e4a" stroke-width="0.7"/>
<rect x="743.6" y="1.3" width="9.4" height="10.4" rx="1.5" fill="#fff" stroke="#e0e3eb" stroke-width="0.7"/>
<rect x="755.4" y="1.3" width="9.4" height="10.4" rx="1.5" fill="#fff" stroke="#e0e3eb" stroke-width="0.7"/>
<rect x="767.1" y="1.3" width="9.4" height="10.4" rx="1.5" fill="#fff" stroke="#e0e3eb" stroke-width="0.7"/>
<path d="M748.3 4.5V9M746.5 7.3L748.3 9.2L750.1 7.3" fill="none" stroke="#3a3e4a" stroke-width="0.7"/>
<path d="M758.4 4.4L760.1 5.8L761.8 4.4M758.4 9.3L760.1 7.9L761.8 9.3" fill="none" stroke="#3a3e4a" stroke-width="0.6"/>
<path d="M769.6 6.3V5.3Q769.6 4.6 770.3 4.6H773.2M772.5 3.9L773.2 4.6L772.5 5.3M773.9 7.7V8.7Q773.9 9.4 773.2 9.4H770.3M771 10.1L770.3 9.4L771 8.7" fill="none" stroke="#3a3e4a" stroke-width="0.6"/>
<text x="781.6" y="22.2" font-size="5" fill="#3b4870" font-weight="400" textLength="12.4" lengthAdjust="spacingAndGlyphs" stroke="#3b4870" stroke-width="0.2">3.500</text>
<text x="781.6" y="47.47" font-size="5" fill="#3b4870" font-weight="400" textLength="12.4" lengthAdjust="spacingAndGlyphs" stroke="#3b4870" stroke-width="0.2">3.450</text>
<text x="781.6" y="72.74" font-size="5" fill="#3b4870" font-weight="400" textLength="12.4" lengthAdjust="spacingAndGlyphs" stroke="#3b4870" stroke-width="0.2">3.400</text>
<text x="781.6" y="98.01" font-size="5" fill="#3b4870" font-weight="400" textLength="12.4" lengthAdjust="spacingAndGlyphs" stroke="#3b4870" stroke-width="0.2">3.350</text>
<text x="781.6" y="123.28" font-size="5" fill="#3b4870" font-weight="400" textLength="12.4" lengthAdjust="spacingAndGlyphs" stroke="#3b4870" stroke-width="0.2">3.300</text>
<text x="781.6" y="148.55" font-size="5" fill="#3b4870" font-weight="400" textLength="12.4" lengthAdjust="spacingAndGlyphs" stroke="#3b4870" stroke-width="0.2">3.250</text>
<text x="781.6" y="173.82" font-size="5" fill="#3b4870" font-weight="400" textLength="12.4" lengthAdjust="spacingAndGlyphs" stroke="#3b4870" stroke-width="0.2">3.200</text>
<text x="781.6" y="199.09" font-size="5" fill="#3b4870" font-weight="400" textLength="12.4" lengthAdjust="spacingAndGlyphs" stroke="#3b4870" stroke-width="0.2">3.150</text>
<text x="781.6" y="224.36" font-size="5" fill="#3b4870" font-weight="400" textLength="12.4" lengthAdjust="spacingAndGlyphs" stroke="#3b4870" stroke-width="0.2">3.100</text>
<text x="781.6" y="249.63" font-size="5" fill="#3b4870" font-weight="400" textLength="12.4" lengthAdjust="spacingAndGlyphs" stroke="#3b4870" stroke-width="0.2">3.050</text>
<text x="781.6" y="274.9" font-size="5" fill="#3b4870" font-weight="400" textLength="12.4" lengthAdjust="spacingAndGlyphs" stroke="#3b4870" stroke-width="0.2">3.000</text>
<g clip-path="url(#rsiax)">
<text x="781.8" y="294.8" font-size="5" fill="#3b4870" font-weight="400" textLength="12.2" lengthAdjust="spacingAndGlyphs" stroke="#3b4870" stroke-width="0.2">90.00</text>
<text x="781.8" y="317.1" font-size="5" fill="#3b4870" font-weight="400" textLength="12.2" lengthAdjust="spacingAndGlyphs" stroke="#3b4870" stroke-width="0.2">80.00</text>
<text x="781.8" y="339.1" font-size="5" fill="#3b4870" font-weight="400" textLength="12.2" lengthAdjust="spacingAndGlyphs" stroke="#3b4870" stroke-width="0.2">70.00</text>
<text x="781.8" y="361.1" font-size="5" fill="#3b4870" font-weight="400" textLength="12.2" lengthAdjust="spacingAndGlyphs" stroke="#3b4870" stroke-width="0.2">60.00</text>
<text x="781.8" y="383.4" font-size="5" fill="#3b4870" font-weight="400" textLength="12.2" lengthAdjust="spacingAndGlyphs" stroke="#3b4870" stroke-width="0.2">50.00</text>
<text x="781.8" y="406.1" font-size="5" fill="#3b4870" font-weight="400" textLength="12.2" lengthAdjust="spacingAndGlyphs" stroke="#3b4870" stroke-width="0.2">40.00</text>
<text x="781.8" y="428.3" font-size="5" fill="#3b4870" font-weight="400" textLength="12.2" lengthAdjust="spacingAndGlyphs" stroke="#3b4870" stroke-width="0.2">30.00</text>
</g>
<rect x="778.4" y="188.9" width="17.4" height="7.8" rx="0.8" fill="#131722"/>
<text x="781.8" y="194.6" font-size="5" fill="#fff" font-weight="400" textLength="12.1" lengthAdjust="spacingAndGlyphs" stroke="#fff" stroke-width="0.2">3.158</text>
<g clip-path="url(#timeclip)">
<text x="58.5" y="445.6" font-size="5" fill="#3b4870" font-weight="400" text-anchor="middle" stroke="#3b4870" stroke-width="0.2">02:40</text>
<text x="96.44" y="445.6" font-size="5" fill="#3b4870" font-weight="400" text-anchor="middle" stroke="#3b4870" stroke-width="0.2">02:50</text>
<text x="134.38" y="445.6" font-size="5" fill="#3b4870" font-weight="700" text-anchor="middle" stroke="#3b4870" stroke-width="0.2">03:00</text>
<text x="172.32" y="445.6" font-size="5" fill="#3b4870" font-weight="400" text-anchor="middle" stroke="#3b4870" stroke-width="0.2">03:10</text>
<text x="210.26" y="445.6" font-size="5" fill="#3b4870" font-weight="400" text-anchor="middle" stroke="#3b4870" stroke-width="0.2">03:20</text>
<text x="248.2" y="445.6" font-size="5" fill="#3b4870" font-weight="400" text-anchor="middle" stroke="#3b4870" stroke-width="0.2">03:30</text>
<text x="286.14" y="445.6" font-size="5" fill="#3b4870" font-weight="400" text-anchor="middle" stroke="#3b4870" stroke-width="0.2">03:40</text>
<text x="324.08" y="445.6" font-size="5" fill="#3b4870" font-weight="400" text-anchor="middle" stroke="#3b4870" stroke-width="0.2">03:50</text>
<text x="362.02" y="445.6" font-size="5" fill="#3b4870" font-weight="700" text-anchor="middle" stroke="#3b4870" stroke-width="0.2">04:00</text>
<text x="399.96" y="445.6" font-size="5" fill="#3b4870" font-weight="400" text-anchor="middle" stroke="#3b4870" stroke-width="0.2">04:10</text>
<text x="437.9" y="445.6" font-size="5" fill="#3b4870" font-weight="400" text-anchor="middle" stroke="#3b4870" stroke-width="0.2">04:20</text>
<text x="475.84" y="445.6" font-size="5" fill="#3b4870" font-weight="400" text-anchor="middle" stroke="#3b4870" stroke-width="0.2">04:30</text>
<text x="513.78" y="445.6" font-size="5" fill="#3b4870" font-weight="400" text-anchor="middle" stroke="#3b4870" stroke-width="0.2">04:40</text>
<text x="551.72" y="445.6" font-size="5" fill="#3b4870" font-weight="400" text-anchor="middle" stroke="#3b4870" stroke-width="0.2">04:50</text>
<text x="589.66" y="445.6" font-size="5" fill="#3b4870" font-weight="700" text-anchor="middle" stroke="#3b4870" stroke-width="0.2">05:00</text>
<text x="627.6" y="445.6" font-size="5" fill="#3b4870" font-weight="400" text-anchor="middle" stroke="#3b4870" stroke-width="0.2">05:10</text>
<text x="665.54" y="445.6" font-size="5" fill="#3b4870" font-weight="400" text-anchor="middle" stroke="#3b4870" stroke-width="0.2">05:20</text>
<text x="703.48" y="445.6" font-size="5" fill="#3b4870" font-weight="400" text-anchor="middle" stroke="#3b4870" stroke-width="0.2">05:30</text>
<text x="741.42" y="445.6" font-size="5" fill="#3b4870" font-weight="400" text-anchor="middle" stroke="#3b4870" stroke-width="0.2">05:40</text>
<text x="779.36" y="445.6" font-size="5" fill="#3b4870" font-weight="400" text-anchor="middle" stroke="#3b4870" stroke-width="0.2">05:50</text>
</g>
<rect x="240.1" y="438.1" width="46.2" height="9.8" rx="1" fill="#131722"/>
<text x="243.1" y="445.6" font-size="5" fill="#fff" font-weight="400" textLength="22.9" lengthAdjust="spacingAndGlyphs" stroke="#fff" stroke-width="0.2">03 Окт '25</text>
<text x="270.5" y="445.6" font-size="5" fill="#fff" font-weight="400" textLength="12.8" lengthAdjust="spacingAndGlyphs" stroke="#fff" stroke-width="0.2">03:34</text>
<circle cx="789.5" cy="444.4" r="2.4" fill="none" stroke="#4a4f5c" stroke-width="0.7" stroke-dasharray="1 0.5"/><circle cx="789.5" cy="444.4" r="1" fill="none" stroke="#4a4f5c" stroke-width="0.6"/>
<text x="27" y="301.3" font-size="5" fill="#343c5c" font-weight="400" textLength="15" lengthAdjust="spacingAndGlyphs" stroke="#343c5c" stroke-width="0.2">RSI 14</text>
<text x="45" y="301.3" font-size="5" fill="#f28a8e" font-weight="400" textLength="13" lengthAdjust="spacingAndGlyphs" stroke="#f28a8e" stroke-width="0.2">75.52</text>
<circle cx="35.3" cy="426.4" r="6.6" fill="#fff" stroke="#eceef3" stroke-width="0.4"/>
<g transform="translate(30.9 422.9) scale(0.25)" fill="#131722"><path d="M14 22H7V11H0V4h14v18zM28 22h-8l7.5-18h8L28 22z"/><circle cx="20" cy="8" r="4"/></g>
<rect x="19.5" y="415" width="3.2" height="10.6" rx="1.2" fill="#fff" stroke="#e0e3eb" stroke-width="0.4"/>
<path d="M6 10H9.4M12.4 10H15.8M10.9 5.3V8.5M10.9 11.5V14.7" fill="none" stroke="#7f9ff5" stroke-width="0.8"/>
<path d="M7.7 27.6L14.3 21.6" fill="none" stroke="#4a4f62" stroke-width="0.75" stroke-linecap="round"/><circle cx="7.2" cy="28.1" r="0.8" fill="none" stroke="#4a4f62" stroke-width="0.75" stroke-linecap="round"/><circle cx="14.8" cy="21.1" r="0.8" fill="none" stroke="#4a4f62" stroke-width="0.75" stroke-linecap="round"/>
<path d="M6 36.6H15.2M6 39.2H15.6M14.2 38L15.6 39.2L14.2 40.4M6.2 42.9H15.8M7.4 41.7L6 42.9L7.4 44.1" fill="none" stroke="#4a4f62" stroke-width="0.75" stroke-linecap="round"/>
<path d="M7 57.8L8.3 50.8L11 54.3L13.5 51L14.6 57.6L11 55.3Z" fill="none" stroke="#4a4f62" stroke-width="0.75" stroke-linecap="round"/><circle cx="8.2" cy="50.9" r="0.7" fill="none" stroke="#4a4f62" stroke-width="0.75" stroke-linecap="round"/><circle cx="13.6" cy="51" r="0.7" fill="none" stroke="#4a4f62" stroke-width="0.75" stroke-linecap="round"/><circle cx="7" cy="57.8" r="0.7" fill="none" stroke="#4a4f62" stroke-width="0.75" stroke-linecap="round"/><circle cx="14.6" cy="57.6" r="0.7" fill="none" stroke="#4a4f62" stroke-width="0.75" stroke-linecap="round"/>
<path d="M6.5 66.4H15.5M6.5 70H15.5M6.5 73.6H15.5" fill="none" stroke="#4a4f62" stroke-width="0.75" stroke-linecap="round"/><circle cx="7" cy="70" r="0.7" fill="none" stroke="#4a4f62" stroke-width="0.75" stroke-linecap="round"/><circle cx="7" cy="73.6" r="0.7" fill="none" stroke="#4a4f62" stroke-width="0.75" stroke-linecap="round"/><circle cx="12" cy="70" r="0.7" fill="none" stroke="#4a4f62" stroke-width="0.75" stroke-linecap="round"/>
<path d="M6.8 89.2L15.3 80.7" fill="none" stroke="#4a4f62" stroke-width="0.75" stroke-linecap="round"/><circle cx="12" cy="84" r="1.1" fill="#4a4f62"/><circle cx="6.8" cy="89.2" r="0.6" fill="none" stroke="#4a4f62" stroke-width="0.75" stroke-linecap="round"/>
<path d="M8 96.6H14M11 96.6V103.6" fill="none" stroke="#4a4f62" stroke-width="0.9"/>
<circle cx="10.9" cy="114.6" r="4.8" fill="none" stroke="#4a4f62" stroke-width="0.75" stroke-linecap="round"/><path d="M9.1 113.5V113.6M12.7 113.5V113.6M9 116.3H12.8" fill="none" stroke="#4a4f62" stroke-width="0.75" stroke-linecap="round"/>
<path d="M3.3 125.4H18M3.3 160.1H18M3.3 226H18" stroke="#e6e8ee" stroke-width="0.8"/>
<path d="M6.5 138.3L13.6 131.2L15.6 133.2L8.5 140.3Z M9 135.8L10 136.8M10.7 134.1L11.7 135.1M12.4 132.4L13.4 133.4" fill="none" stroke="#4a4f62" stroke-width="0.75" stroke-linecap="round"/>
<circle cx="10.3" cy="148.7" r="3.2" fill="none" stroke="#4a4f62" stroke-width="0.75" stroke-linecap="round"/><path d="M12.6 151L14.2 152.8M10.3 147.3V150.1M8.9 148.7H11.7" fill="none" stroke="#4a4f62" stroke-width="0.75" stroke-linecap="round"/>
<path d="M7.5 174.4V170.2A3.4 3.4 0 0 1 14.3 170.2V174.4M7.5 174.4H9.4M12.4 174.4H14.3M9.4 174.4V170.4A1.5 1.5 0 0 1 12.4 170.4V174.4M7.5 172.4H9.4M12.4 172.4H14.3" fill="none" stroke="#4a4f62" stroke-width="0.75" stroke-linecap="round"/>
<path d="M6.8 187.2L11.6 182.4L13.2 184L8.4 188.8L6.5 189.2Z" fill="#4a4f62" stroke="#4a4f62" stroke-width="0.5"/><rect x="12.2" y="186.8" width="2.8" height="2.4" fill="none" stroke="#4a4f62" stroke-width="0.75" stroke-linecap="round"/><path d="M12.8 186.8V186A0.8 0.8 0 0 1 14.4 186V186.8" fill="none" stroke="#4a4f62" stroke-width="0.75" stroke-linecap="round"/>
<rect x="7.5" y="200.7" width="6.5" height="4" fill="none" stroke="#4a4f62" stroke-width="0.75" stroke-linecap="round"/><path d="M9.2 200.7V198.9A1.7 1.7 0 0 1 12.6 198.6" fill="none" stroke="#4a4f62" stroke-width="0.75" stroke-linecap="round"/><path d="M10.75 202.2V203.2" fill="none" stroke="#4a4f62" stroke-width="0.75" stroke-linecap="round"/>
<path d="M6.6 214.6Q10.7 209.6 14.8 214.6Q10.7 219.6 6.6 214.6Z" fill="none" stroke="#4a4f62" stroke-width="0.75" stroke-linecap="round"/><circle cx="10.7" cy="214.6" r="1.4" fill="none" stroke="#4a4f62" stroke-width="0.75" stroke-linecap="round"/><path d="M12.6 220.4L15.2 217.8" fill="none" stroke="#4a4f62" stroke-width="0.75" stroke-linecap="round"/>
<path d="M7.4 233.9H14.2M9.3 233.9V232.6H12.3V233.9M8.1 233.9L8.7 240.5H12.9L13.5 233.9M10.1 235.6V239M11.5 235.6V239" fill="none" stroke="#4a4f62" stroke-width="0.75" stroke-linecap="round"/>
<path d="M10.85 430.2L14.7 432.6L10.85 435L7 432.6Z" fill="none" stroke="#5a6887" stroke-width="0.8" stroke-linejoin="round"/>
<path d="M7 433.8L10.85 436.2L14.7 433.8V435.6L10.85 438.4L7 435.6Z" fill="#5a6887"/>
</svg>
</body></html>
